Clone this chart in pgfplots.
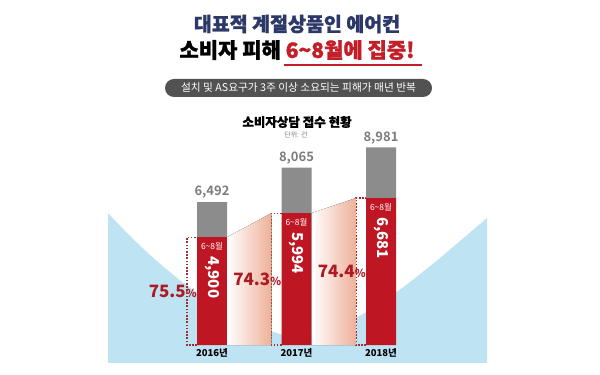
\documentclass[border=0pt]{standalone}
\usepackage{fontspec}
\setmainfont{Noto Sans CJK KR}[BoldFont={Noto Sans CJK KR Bold}]
\newfontfamily\blackfont{Noto Sans CJK KR Black}[FakeBold=1.2]
\newfontfamily\heavyfont{Noto Sans CJK KR Black}
\usepackage{pgfplots}
\pgfplotsset{compat=1.18}
\definecolor{navy}{RGB}{43,56,104}
\definecolor{titlered}{RGB}{196,30,40}
\definecolor{barred}{RGB}{190,22,34}
\definecolor{bargrey}{RGB}{140,140,140}
\definecolor{labgrey}{RGB}{125,125,125}
\definecolor{pctred}{RGB}{172,26,36}
\definecolor{pillgrey}{RGB}{82,82,82}
\definecolor{bgblue}{RGB}{190,227,243}
\definecolor{salmon}{RGB}{238,176,152}
\definecolor{dotred}{RGB}{160,45,50}
\tikzset{
  toplab/.style={text=labgrey, font=\bfseries\fontsize{13}{14}\selectfont, anchor=south},
  monlab/.style={text=white, font=\fontsize{8.5}{9}\selectfont},
  numlab/.style={text=white, font=\heavyfont\fontsize{15}{16}\selectfont, rotate=-90, anchor=west, inner sep=0pt},
  yrlab/.style={font=\heavyfont\fontsize{9.5}{10}\selectfont},
  pctlab/.style={text=pctred, font=\heavyfont\fontsize{17}{18}\selectfont},
  dotbox/.style={dotred, line width=1.1pt, dash pattern=on 1.6pt off 1.6pt},
}
\newcommand{\pct}{{\fontsize{11}{12}\selectfont\%}}
\begin{document}
\begin{tikzpicture}[x=1pt,y=1pt]
\useasboundingbox (0,0) rectangle (600,375);
\fill[white] (0,0) rectangle (600,375);
% background blue bowl
\fill[bgblue] (108,162) .. controls (165,100) and (230,50) .. (297,37)
  .. controls (360,45) and (420,100) .. (487,157) -- (487,12) -- (108,12) -- cycle;
% header
\node[text=navy, font=\blackfont\fontsize{19.5}{23}\selectfont] at (297,351) {대표적 계절상품인 에어컨};
\node[font=\blackfont\fontsize{21}{25}\selectfont] at (297,325) {소비자 피해 \textcolor{titlered}{6\textasciitilde8월에 집중!}};
\draw[titlered, line width=1.2pt] (284,310) -- (422,310);
\fill[pillgrey, rounded corners=9pt] (165,278) rectangle (432,296);
\node[text=white, font=\fontsize{10.7}{12}\selectfont] at (298.5,287) {설치 및 AS요구가 3주 이상 소요되는 피해가 매년 반복};
\node[font=\blackfont\fontsize{12.5}{14}\selectfont] at (297,253) {소비자상담 접수 현황};
\node[text=labgrey, font=\fontsize{7}{8}\selectfont] at (296,240) {단위: 건};
\begin{axis}[at={(212pt,30pt)}, anchor=origin, x=84.5pt, y=0.022pt,
  xmin=-1.3, xmax=2.6, ymin=0, ymax=9500, hide axis, clip=false,
  ybar stacked, bar width=30pt]
% gradient connectors
\fill[left color=white, right color=salmon, draw=none]
  (axis cs:0.1775,4900) -- (axis cs:0.704,5994) -- (axis cs:0.704,0) -- (axis cs:0.1775,0) -- cycle;
\fill[left color=white, right color=salmon, draw=none]
  (axis cs:1.1775,5994) -- (axis cs:1.704,6681) -- (axis cs:1.704,0) -- (axis cs:1.1775,0) -- cycle;
% dotted boxes
\draw[dotbox] (axis cs:-0.1775,0) -- (axis cs:-0.296,0) -- (axis cs:-0.296,4900) -- (axis cs:-0.1775,4900);
\draw[dotbox] (axis cs:0.8225,0) -- (axis cs:0.704,0) -- (axis cs:0.704,5994) -- (axis cs:0.8225,5994);
\draw[dotbox] (axis cs:1.8225,0) -- (axis cs:1.704,0) -- (axis cs:1.704,6681) -- (axis cs:1.8225,6681);
\addplot[fill=barred, draw=none] coordinates {(0,4900) (1,5994) (2,6681)};
\addplot[fill=bargrey, draw=none] coordinates {(0,1592) (1,2071) (2,2300)};
\coordinate (t0) at (axis cs:0,6492);
\coordinate (t1) at (axis cs:1,8065);
\coordinate (t2) at (axis cs:2,8981);
\coordinate (r0) at (axis cs:0,4900);
\coordinate (r1) at (axis cs:1,5994);
\coordinate (r2) at (axis cs:2,6681);
\coordinate (b0) at (axis cs:0,0);
\coordinate (b1) at (axis cs:1,0);
\coordinate (b2) at (axis cs:2,0);
\coordinate (p0) at (axis cs:-0.465,2450);
\coordinate (p1) at (axis cs:0.535,2997);
\coordinate (p2) at (axis cs:1.535,3340);
\end{axis}
% labels on top
\node[toplab] at (t0) {6,492};
\node[toplab] at (t1) {8,065};
\node[toplab] at (t2) {8,981};
\foreach \k in {0,1,2}{
  \node[monlab] at ([yshift=-9pt]r\k) {6\textasciitilde8월};
}
\node[numlab] at ([yshift=-19pt]r0) {4,900};
\node[numlab] at ([yshift=-19pt]r1) {5,994};
\node[numlab] at ([yshift=-19pt]r2) {6,681};
\node[yrlab] at ([yshift=-8pt]b0) {2016년};
\node[yrlab] at ([yshift=-8pt]b1) {2017년};
\node[yrlab] at ([yshift=-8pt]b2) {2018년};
\node[pctlab] at (p0) {75.5\pct};
\node[pctlab] at (p1) {74.3\pct};
\node[pctlab] at (p2) {74.4\pct};
\end{tikzpicture}
\end{document}
